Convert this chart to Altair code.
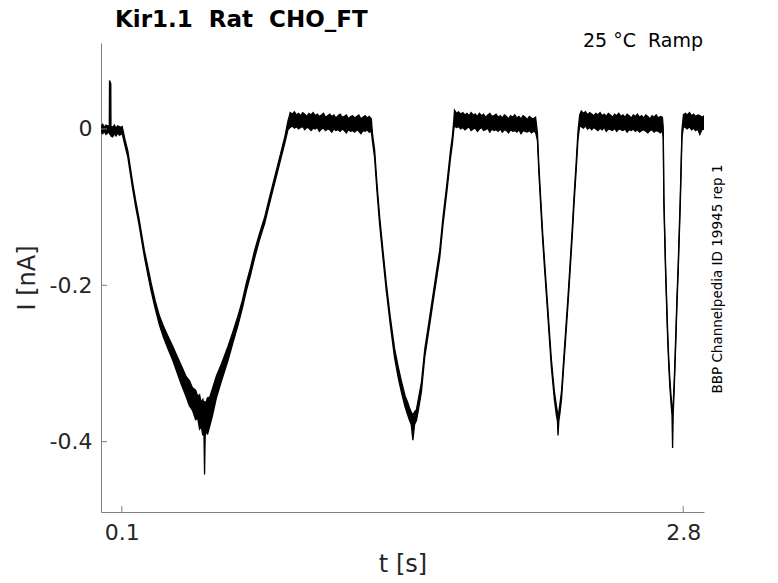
import altair as alt
import pandas as pd

# ---------------- data ----------------
# baseline before the first ramp (with the capacitive spike)
base_t  = [0.000, 0.008, 0.016, 0.024, 0.032, 0.040, 0.041, 0.047, 0.048, 0.056, 0.064, 0.072, 0.080, 0.088, 0.096]
base_lo = [-0.004, -0.006, -0.003, -0.007, -0.005, -0.004, -0.006, -0.008, -0.009, -0.010, -0.006, -0.009, -0.005, -0.008, -0.007]
base_hi = [0.003, 0.006, 0.002, 0.005, 0.004, 0.004, 0.062, 0.058, 0.003, 0.002, 0.005, 0.001, 0.004, 0.003, 0.002]

# ramp 1 (slow)
r1_t  = [0.102, 0.115, 0.129, 0.141, 0.153, 0.167, 0.182, 0.195, 0.209, 0.225, 0.241, 0.260, 0.281, 0.300,
         0.320, 0.345, 0.365, 0.385, 0.410, 0.425, 0.440, 0.455, 0.465, 0.474, 0.482, 0.490, 0.495, 0.498,
         0.501, 0.506, 0.512, 0.523, 0.535, 0.555, 0.580, 0.611, 0.635, 0.659, 0.680, 0.699, 0.720, 0.739,
         0.762, 0.787, 0.807, 0.827, 0.847, 0.867, 0.884, 0.899]
r1_lo = [-0.006, -0.021, -0.036, -0.057, -0.078, -0.100, -0.121, -0.142, -0.164, -0.186, -0.207, -0.229, -0.251, -0.266,
         -0.280, -0.296, -0.311, -0.326, -0.343, -0.354, -0.360, -0.372, -0.370, -0.384, -0.381, -0.392, -0.386, -0.442,
         -0.393, -0.384, -0.391, -0.380, -0.368, -0.344, -0.322, -0.296, -0.273, -0.251, -0.229, -0.207, -0.186, -0.165,
         -0.142, -0.121, -0.099, -0.078, -0.057, -0.036, -0.018, -0.001]
r1_hi = [0.003, -0.013, -0.028, -0.049, -0.070, -0.092, -0.113, -0.134, -0.156, -0.176, -0.197, -0.219, -0.239, -0.252,
         -0.264, -0.278, -0.290, -0.302, -0.317, -0.322, -0.331, -0.334, -0.342, -0.340, -0.350, -0.346, -0.352, -0.348,
         -0.354, -0.349, -0.344, -0.343, -0.333, -0.316, -0.300, -0.278, -0.259, -0.239, -0.219, -0.197, -0.176, -0.155,
         -0.134, -0.113, -0.091, -0.070, -0.049, -0.028, -0.010, 0.010]

# plateau 1 (0.91 .. 1.30 s, 10 ms steps)
p1_t  = [round(0.91 + 0.01 * k, 3) for k in range(40)]
p1_hi = [0.021, 0.019, 0.022, 0.018, 0.020, 0.017, 0.021, 0.019, 0.016, 0.020,
         0.018, 0.021, 0.017, 0.019, 0.016, 0.018, 0.020, 0.015, 0.017, 0.019,
         0.016, 0.018, 0.014, 0.017, 0.019, 0.015, 0.016, 0.018, 0.013, 0.016,
         0.017, 0.014, 0.016, 0.018, 0.013, 0.015, 0.017, 0.014, 0.016, 0.013]
p1_lo = [0.002, 0.004, 0.001, 0.003, 0.000, 0.002, 0.003, -0.001, 0.002, 0.001,
         -0.002, 0.001, 0.000, 0.002, -0.003, 0.000, 0.001, -0.002, 0.000, -0.001,
         -0.004, 0.000, -0.002, -0.001, -0.003, 0.000, -0.002, -0.005, -0.001, -0.003,
         -0.002, -0.004, -0.001, -0.003, -0.006, -0.002, -0.003, -0.001, -0.004, -0.003]

# ramp 2
r2_t  = [1.306, 1.316, 1.327, 1.340, 1.356, 1.372, 1.391, 1.412, 1.430, 1.445, 1.462, 1.475, 1.484, 1.492, 1.500,
         1.508, 1.517, 1.528, 1.541, 1.557, 1.581, 1.605, 1.629, 1.645, 1.664, 1.681, 1.690, 1.697]
r2_lo = [-0.017, -0.037, -0.079, -0.122, -0.165, -0.207, -0.250, -0.293, -0.319, -0.337, -0.355, -0.366, -0.373, -0.378, -0.398,
         -0.378, -0.373, -0.357, -0.336, -0.292, -0.250, -0.207, -0.165, -0.122, -0.079, -0.037, -0.019, 0.000]
r2_hi = [-0.007, -0.027, -0.069, -0.112, -0.155, -0.197, -0.240, -0.281, -0.305, -0.323, -0.341, -0.350, -0.357, -0.362, -0.366,
         -0.362, -0.359, -0.343, -0.324, -0.282, -0.240, -0.197, -0.155, -0.112, -0.069, -0.027, -0.009, 0.012]

# plateau 2 (1.70 .. 2.09 s)
p2_t  = [round(1.70 + 0.01 * k, 3) for k in range(40)]
p2_hi = [0.024, 0.020, 0.022, 0.019, 0.021, 0.018, 0.020, 0.017, 0.021, 0.018,
         0.019, 0.016, 0.020, 0.017, 0.019, 0.015, 0.018, 0.020, 0.016, 0.017,
         0.019, 0.015, 0.017, 0.014, 0.018, 0.016, 0.013, 0.017, 0.015, 0.018,
         0.014, 0.016, 0.013, 0.017, 0.015, 0.012, 0.016, 0.014, 0.013, 0.015]
p2_lo = [0.004, 0.002, 0.003, 0.000, 0.002, -0.001, 0.001, 0.003, -0.002, 0.000,
         0.001, -0.003, 0.000, 0.002, -0.002, -0.001, 0.001, -0.004, 0.000, -0.002,
         -0.001, -0.003, 0.000, -0.004, -0.001, -0.002, -0.005, -0.001, -0.003, -0.002,
         -0.004, -0.001, -0.006, -0.002, -0.003, -0.004, -0.002, -0.005, -0.003, -0.004]

# ramp 3
r3_t  = [2.099, 2.106, 2.115, 2.124, 2.134, 2.145, 2.155, 2.166, 2.180, 2.190, 2.195, 2.198, 2.202, 2.207,
         2.215, 2.224, 2.235, 2.246, 2.256, 2.266, 2.275, 2.285, 2.294, 2.302]
r3_lo = [-0.015, -0.057, -0.100, -0.142, -0.182, -0.224, -0.263, -0.305, -0.345, -0.366, -0.373, -0.392, -0.373, -0.364,
         -0.345, -0.309, -0.267, -0.224, -0.182, -0.139, -0.096, -0.054, -0.013, 0.004]
r3_hi = [-0.005, -0.047, -0.090, -0.132, -0.172, -0.214, -0.253, -0.295, -0.335, -0.354, -0.362, -0.364, -0.362, -0.352,
         -0.335, -0.299, -0.257, -0.214, -0.172, -0.129, -0.086, -0.044, -0.003, 0.018]

# plateau 3 (2.31 .. 2.70 s)
p3_t  = [round(2.31 + 0.01 * k, 3) for k in range(40)]
p3_hi = [0.023, 0.020, 0.022, 0.018, 0.021, 0.019, 0.017, 0.020, 0.018, 0.021,
         0.017, 0.019, 0.016, 0.020, 0.018, 0.015, 0.019, 0.017, 0.020, 0.016,
         0.018, 0.015, 0.019, 0.017, 0.014, 0.018, 0.016, 0.019, 0.015, 0.017,
         0.014, 0.018, 0.016, 0.013, 0.017, 0.015, 0.018, 0.014, 0.016, 0.015]
p3_lo = [0.003, 0.001, 0.004, 0.000, 0.002, -0.001, 0.002, 0.000, -0.002, 0.001,
         -0.001, 0.002, -0.003, 0.000, -0.001, -0.002, 0.001, -0.003, 0.000, -0.001,
         -0.002, 0.000, -0.004, -0.001, -0.002, 0.000, -0.003, -0.001, -0.004, -0.002,
         -0.001, -0.003, -0.005, -0.002, -0.001, -0.004, -0.002, -0.003, -0.005, -0.002]

# ramp 4 (fast)
r4_t  = [2.704, 2.707, 2.711, 2.715, 2.720, 2.725, 2.730, 2.736, 2.742, 2.746, 2.749, 2.752, 2.757,
         2.761, 2.765, 2.770, 2.776, 2.781, 2.786, 2.790, 2.794, 2.801]
r4_lo = [-0.012, -0.096, -0.139, -0.182, -0.225, -0.267, -0.300, -0.331, -0.353, -0.366, -0.408, -0.364, -0.331,
         -0.300, -0.267, -0.225, -0.182, -0.139, -0.096, -0.054, -0.011, 0.003]
r4_hi = [0.002, -0.086, -0.129, -0.172, -0.215, -0.257, -0.290, -0.321, -0.343, -0.355, -0.360, -0.352, -0.321,
         -0.290, -0.257, -0.215, -0.172, -0.129, -0.086, -0.044, -0.001, 0.018]

# final plateau (2.81 .. 2.90 s)
p4_t  = [2.81, 2.82, 2.83, 2.84, 2.85, 2.86, 2.87, 2.88, 2.89, 2.90]
p4_hi = [0.020, 0.018, 0.021, 0.017, 0.019, 0.016, 0.018, 0.017, 0.015, 0.017]
p4_lo = [0.002, 0.000, 0.003, -0.001, 0.001, -0.002, 0.000, -0.007, -0.001, 0.000]

x_tick_values = [0.1, 2.8]
y_tick_values = [-0.4, -0.2, 0.0]

title_text = "Kir1.1\u00a0 Rat\u00a0 CHO_FT"
cond_text = "25 °C\u00a0 Ramp"
id_text = "BBP Channelpedia ID 19945 rep 1"

# ---------------- build table ----------------
t_all = base_t + r1_t + p1_t + r2_t + p2_t + r3_t + p3_t + r4_t + p4_t
lo_all = base_lo + r1_lo + p1_lo + r2_lo + p2_lo + r3_lo + p3_lo + r4_lo + p4_lo
hi_all = base_hi + r1_hi + p1_hi + r2_hi + p2_hi + r3_hi + p3_hi + r4_hi + p4_hi
df = pd.DataFrame({"t": t_all, "lo": lo_all, "hi": hi_all})

W, H = 603, 469
FONT = "DejaVu Sans"
AXC = "#808080"
TXC = "#262626"

xscale = alt.Scale(domain=[0.0, 2.9], nice=False, zero=False)
yscale = alt.Scale(domain=[-0.49, 0.11], nice=False, zero=False)

xaxis = alt.Axis(values=x_tick_values, title="t [s]", grid=False, ticks=False, domainColor=AXC,
                 domainWidth=1, labelFont=FONT, labelFontSize=22, labelColor=TXC, labelPadding=10,
                 labelFlush=False, format=".1f", titleFont=FONT, titleFontSize=24,
                 titleFontWeight="normal", titleColor=TXC, titlePadding=9)
yaxis = alt.Axis(values=y_tick_values, title="I [nA]", grid=False, ticks=False, domainColor=AXC,
                 domainWidth=1, labelFont=FONT, labelFontSize=22, labelColor=TXC, labelPadding=9,
                 labelFlush=False,
                 labelExpr="datum.value == 0 ? '0' : '-' + format(abs(datum.value), '.1f')",
                 titleFont=FONT, titleFontSize=24, titleFontWeight="normal", titleColor=TXC,
                 titlePadding=10)

base = alt.Chart(df)
band = base.mark_area(color="black", opacity=1, clip=True).encode(
    x=alt.X("t:Q", scale=xscale, axis=xaxis),
    y=alt.Y("lo:Q", scale=yscale, axis=yaxis),
    y2="hi:Q",
)
edge_lo = base.mark_line(color="black", strokeWidth=1.3, clip=True).encode(
    x=alt.X("t:Q", scale=xscale, axis=xaxis), y=alt.Y("lo:Q", scale=yscale, axis=yaxis))
edge_hi = base.mark_line(color="black", strokeWidth=1.3, clip=True).encode(
    x=alt.X("t:Q", scale=xscale, axis=xaxis), y=alt.Y("hi:Q", scale=yscale, axis=yaxis))

yticks = alt.Chart(pd.DataFrame({"v": y_tick_values})).mark_rule(color=AXC, strokeWidth=1).encode(
    y=alt.Y("v:Q", scale=yscale, axis=yaxis), x=alt.value(0), x2=alt.value(6))
xticks = alt.Chart(pd.DataFrame({"v": x_tick_values})).mark_rule(color=AXC, strokeWidth=1).encode(
    x=alt.X("v:Q", scale=xscale, axis=xaxis), y=alt.value(H), y2=alt.value(H - 6))

cond = alt.Chart(pd.DataFrame({"s": [cond_text]})).mark_text(
    align="right", baseline="alphabetic", font=FONT, fontSize=19, color="black").encode(
    x=alt.value(W - 1), y=alt.value(4), text="s:N")
ident = alt.Chart(pd.DataFrame({"s": [id_text]})).mark_text(
    align="center", baseline="middle", angle=270, font=FONT, fontSize=13.5, color="black").encode(
    x=alt.value(W + 14), y=alt.value(236), text="s:N")

chart = alt.layer(band, edge_lo, edge_hi, yticks, xticks, cond, ident).properties(
    width=W, height=H,
    background="white",
    title=alt.TitleParams(title_text, anchor="start", frame="group", font=FONT, fontSize=23,
                          fontWeight="bold", color="black", dx=14, offset=0),
    autosize=alt.AutoSizeParams(type="none"),
    padding={"left": 93, "top": 35, "right": 60, "bottom": 67},
).configure_view(stroke=None)

chart.save("out.html", embed_options={"renderer": "svg", "actions": False})
